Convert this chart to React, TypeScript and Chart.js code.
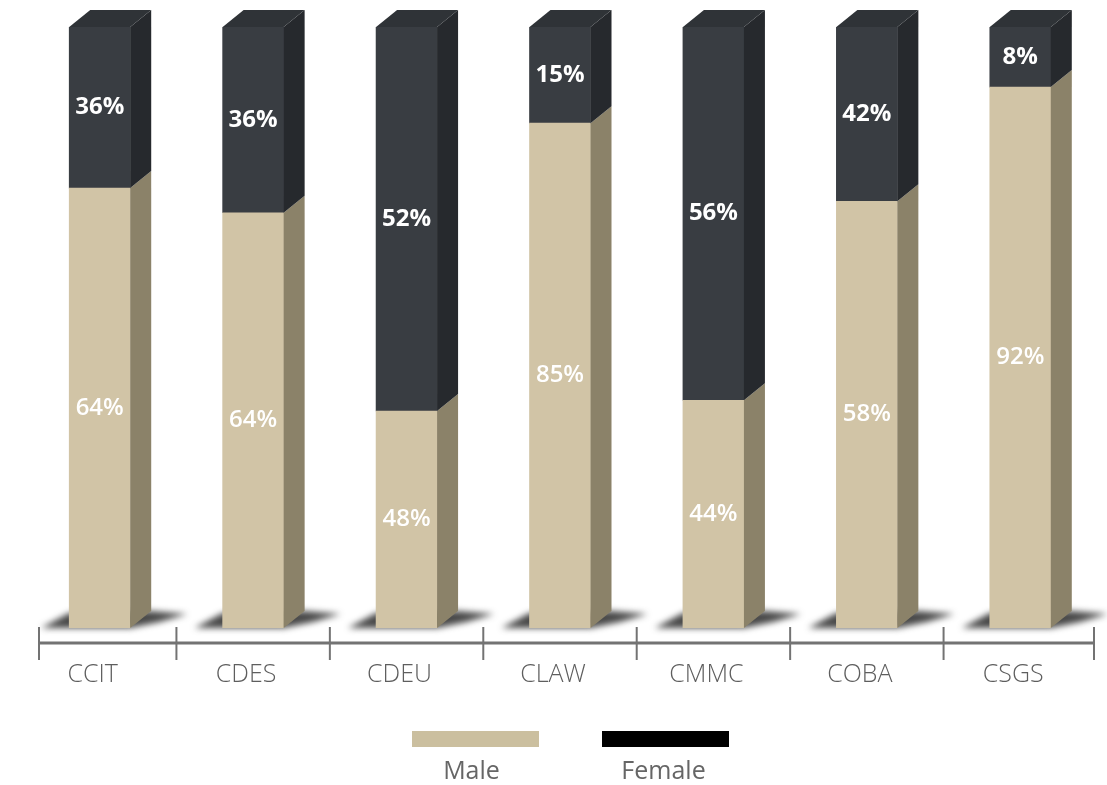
import React, { useEffect, useRef } from "react";
import { Chart, registerables } from "chart.js";

Chart.register(...registerables);

const categories = ["CCIT", "CDES", "CDEU", "CLAW", "CMMC", "COBA", "CSGS"];
// bar heights as drawn in the picture (share of the 100% column)
const maleValues = [73.2, 69.1, 36.1, 84.0, 37.9, 71.0, 90.0];
const femaleValues = [26.8, 30.9, 63.9, 16.0, 62.1, 29.0, 10.0];
// labels printed on the bars
const maleLabels = ["64%", "64%", "48%", "85%", "44%", "58%", "92%"];
const femaleLabels = ["36%", "36%", "52%", "15%", "56%", "42%", "8%"];
const seriesNames = ["Male", "Female"];

const MALE_FRONT = "#d1c4a6";
const MALE_SIDE = "#8b8269";
const FEMALE_FRONT = "#393d42";
const FEMALE_SIDE = "#26292d";
const FEMALE_TOP = "#2f3337";
const LEGEND_MALE = "#cbbf9f";
const LEGEND_FEMALE = "#000000";
const FONT = "'Open Sans', 'Noto Sans', sans-serif";
const DX = 21;
const DY = 17;

const threeD = {
  id: "threeD",
  beforeDatasetsDraw(chart: any) {
    const ctx = chart.ctx;
    const meta = chart.getDatasetMeta(0);
    ctx.save();
    meta.data.forEach((el: any) => {
      const { x, width, base } = el.getProps(["x", "width", "base"], true);
      const l = x - width / 2;
      const r = x + width / 2;
      ctx.filter = "blur(3px)";
      ctx.fillStyle = "rgba(40,40,40,0.85)";
      ctx.beginPath();
      ctx.moveTo(l - 28, base);
      ctx.lineTo(l, base - 15);
      ctx.lineTo(r + DX, base - DY);
      ctx.lineTo(r + DX + 36, base - DY + 3);
      ctx.lineTo(r + DX + 8, base - 6);
      ctx.lineTo(r, base);
      ctx.closePath();
      ctx.fill();
    });
    ctx.restore();
  },
  afterDatasetsDraw(chart: any) {
    const ctx = chart.ctx;
    const n = chart.data.datasets.length;
    ctx.save();
    for (let d = 0; d < n; d++) {
      const meta = chart.getDatasetMeta(d);
      meta.data.forEach((el: any) => {
        const { x, y, width, base } = el.getProps(["x", "y", "width", "base"], true);
        const l = x - width / 2;
        const r = x + width / 2;
        const top = Math.min(y, base);
        const bot = Math.max(y, base);
        ctx.fillStyle = d === 0 ? MALE_SIDE : FEMALE_SIDE;
        ctx.beginPath();
        ctx.moveTo(r, top);
        ctx.lineTo(r + DX, top - DY);
        ctx.lineTo(r + DX, bot - DY);
        ctx.lineTo(r, bot);
        ctx.closePath();
        ctx.fill();
        if (d === n - 1) {
          ctx.fillStyle = FEMALE_TOP;
          ctx.beginPath();
          ctx.moveTo(l, top);
          ctx.lineTo(l + DX, top - DY);
          ctx.lineTo(r + DX, top - DY);
          ctx.lineTo(r, top);
          ctx.closePath();
          ctx.fill();
        }
      });
    }
    ctx.textAlign = "center";
    ctx.textBaseline = "middle";
    ctx.fillStyle = "#ffffff";
    for (let d = 0; d < n; d++) {
      const meta = chart.getDatasetMeta(d);
      const labels = d === 0 ? maleLabels : femaleLabels;
      ctx.font = (d === 0 ? "600 " : "bold ") + "24px " + FONT;
      meta.data.forEach((el: any, i: number) => {
        const { x, y, base } = el.getProps(["x", "y", "base"], true);
        ctx.fillText(labels[i], x, (y + base) / 2);
      });
    }
    ctx.restore();
  },
  afterDraw(chart: any) {
    const ctx = chart.ctx;
    const xs = chart.scales.x;
    const area = chart.chartArea;
    const axisY = area.bottom + 15;
    const count = categories.length;
    const step = xs.getPixelForValue(1) - xs.getPixelForValue(0);
    const first = xs.getPixelForValue(0) - step / 2 + 16;
    const last = xs.getPixelForValue(count - 1) + step / 2 - 3;
    ctx.save();
    ctx.strokeStyle = "#737373";
    ctx.lineWidth = 3;
    ctx.beginPath();
    ctx.moveTo(first, axisY);
    ctx.lineTo(last, axisY);
    ctx.stroke();
    ctx.lineWidth = 2;
    for (let i = 0; i <= count; i++) {
      let bx = xs.getPixelForValue(i) - step / 2;
      if (i === 0) bx = first;
      if (i === count) bx = last;
      ctx.beginPath();
      ctx.moveTo(bx, axisY - 16);
      ctx.lineTo(bx, axisY + 17);
      ctx.stroke();
    }
    const colors = [LEGEND_MALE, LEGEND_FEMALE];
    const boxW = 127;
    const boxH = 16;
    const gap = 63;
    const total = boxW * 2 + gap;
    const cx = chart.width / 2 + 17;
    const start = cx - total / 2;
    const boxTop = 731;
    ctx.font = "25px " + FONT;
    ctx.textAlign = "center";
    ctx.textBaseline = "middle";
    seriesNames.forEach((name, i) => {
      const bx = start + i * (boxW + gap);
      ctx.fillStyle = colors[i];
      ctx.fillRect(bx, boxTop, boxW, boxH);
      ctx.fillStyle = "#666666";
      ctx.fillText(name, bx + boxW / 2 - 4 + i * 2, 772);
    });
    ctx.restore();
  },
};

export default function App() {
  const ref = useRef<HTMLCanvasElement | null>(null);
  useEffect(() => {
    document.body.style.margin = "0";
    if (!ref.current) return;
    const chart = new Chart(ref.current, {
      type: "bar",
      data: {
        labels: categories,
        datasets: [
          {
            label: seriesNames[0],
            data: maleValues,
            backgroundColor: MALE_FRONT,
            borderWidth: 0,
            barThickness: 61,
          },
          {
            label: seriesNames[1],
            data: femaleValues,
            backgroundColor: FEMALE_FRONT,
            borderWidth: 0,
            barThickness: 61,
          },
        ],
      },
      options: {
        responsive: false,
        animation: false,
        layout: { padding: { left: 23, right: 10, top: 27, bottom: 71 } },
        plugins: {
          legend: { display: false },
          tooltip: { enabled: false },
        },
        scales: {
          x: {
            stacked: true,
            offset: true,
            grid: { display: false },
            border: { display: false },
            ticks: {
              padding: 24,
              color: "#5e5e5e",
              font: { family: FONT, size: 25, weight: 300 },
              labelOffset: -7,
            },
          },
          y: {
            stacked: true,
            min: 0,
            max: 100,
            display: false,
          },
        },
      },
      plugins: [threeD],
    });
    return () => chart.destroy();
  }, []);
  return (
    <div style={{ width: 1107, height: 785 }}>
      <canvas ref={ref} width={1107} height={785} />
    </div>
  );
}
